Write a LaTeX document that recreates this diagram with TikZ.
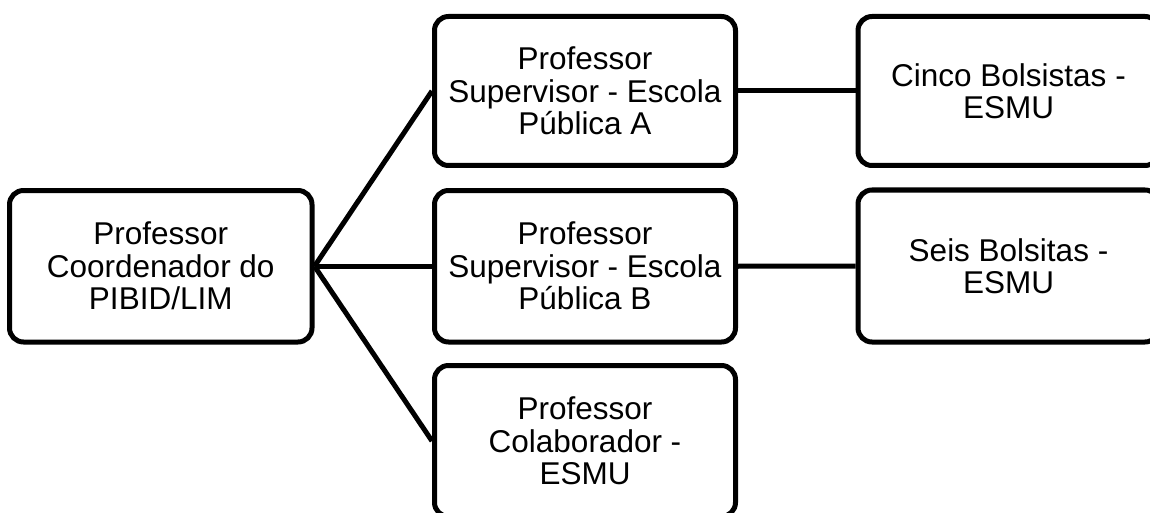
\documentclass[tikz,border=0pt]{standalone}
\usepackage{fontspec}
\setmainfont{Liberation Sans}
\begin{document}
\begin{tikzpicture}[x=1pt,y=-1pt,
  box/.style={draw=black, line width=5pt, rounded corners=14pt, fill=white,
    minimum width=301pt, minimum height=151pt, inner sep=0pt, align=center,
    font=\fontsize{31.5}{32.5}\selectfont},
  link/.style={draw=black, line width=5pt}]
\useasboundingbox (0,0) rectangle (1150,513);
\node[box, minimum width=302.5pt, minimum height=151.5pt] (L) at (160.75,266.25) {Professor\\Coordenador do\\PIBID/LIM};
\node[box, minimum height=149pt] (A) at (585,91) {Professor\\Supervisor - Escola\\Pública A};
\node[box, minimum height=151.5pt] (B) at (585,266.25) {Professor\\Supervisor - Escola\\Pública B};
\node[box] (C) at (585,441) {Professor\\Colaborador -\\ESMU};
\node[box, minimum height=149pt] (R1) at (1008.5,91) {Cinco Bolsistas -\\ESMU};
\node[box, minimum height=152pt] (R2) at (1008.5,266) {Seis Bolsitas -\\ESMU};
\draw[link] (L.east) -- (A.west);
\draw[link] (L.east) -- (B.west);
\draw[link] (L.east) -- (C.west);
\draw[link] (A.east) -- (R1.west);
\draw[link] (B.east) -- (R2.west);
\end{tikzpicture}
\end{document}
